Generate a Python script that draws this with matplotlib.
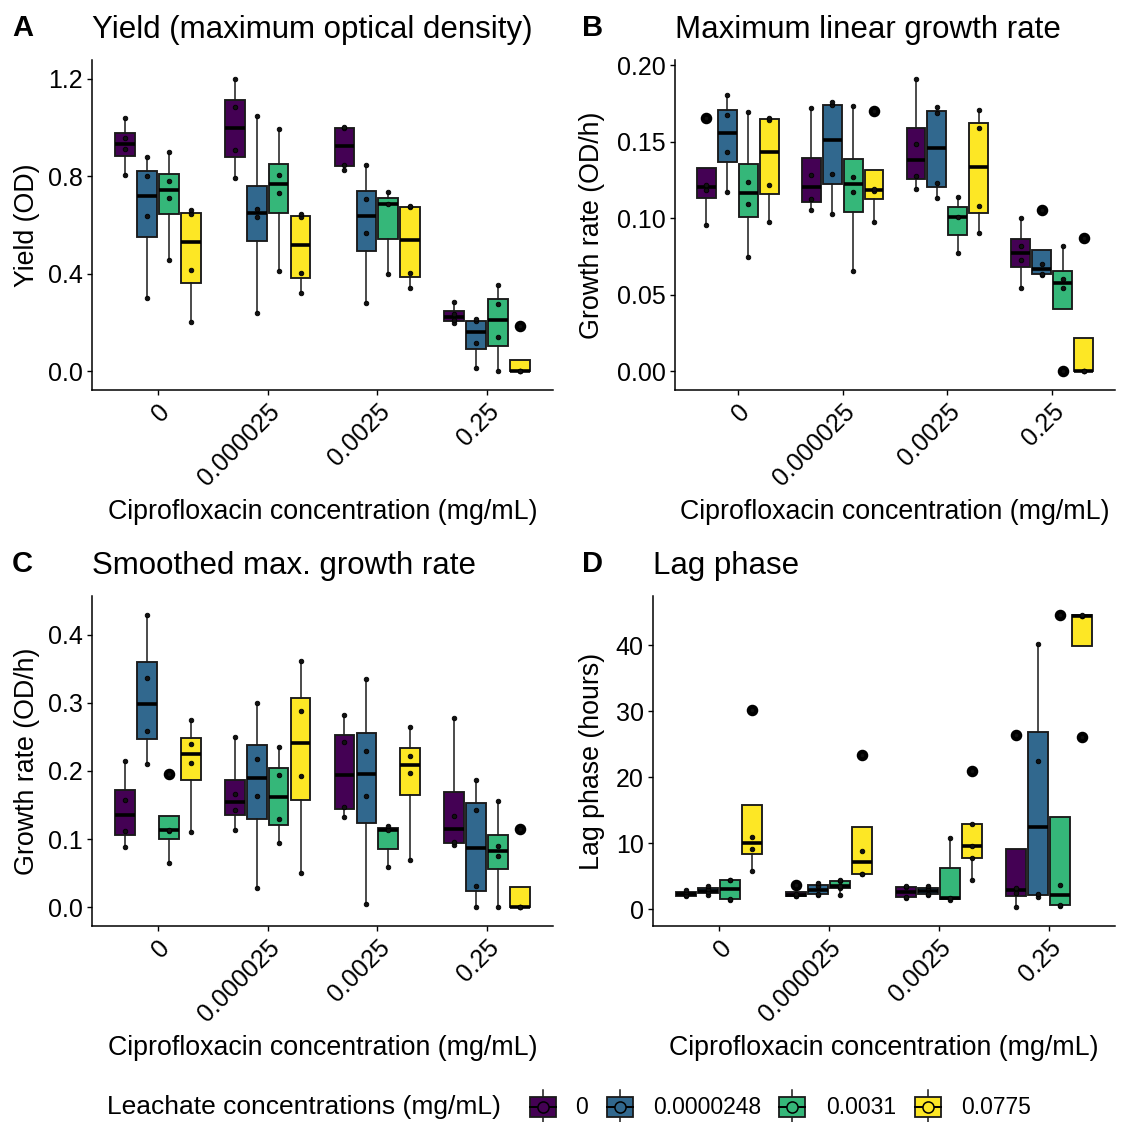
import numpy as np
import matplotlib.pyplot as plt
from matplotlib.patches import Rectangle

plt.rcParams['font.family'] = ['Liberation Sans', 'DejaVu Sans']

W, H = 1123, 1122

cipro_labels = ['0', '0.000025', '0.0025', '0.25']
leachate_labels = ['0', '0.0000248', '0.0031', '0.0775']
leachate_colors = ['#440154', '#31688E', '#35B779', '#FDE725']

# replicate values, one inner list per ciprofloxacin level, one list per leachate level
# yield (maximum OD)
yield_l0 = [[0.804, 0.911, 0.956, 1.041], [0.795, 0.908, 1.086, 1.200],
            [0.826, 0.847, 1.000, 1.002], [0.197, 0.208, 0.235, 0.284]]
yield_l1 = [[0.298, 0.635, 0.801, 0.878], [0.239, 0.631, 0.664, 1.048],
            [0.280, 0.566, 0.705, 0.846], [0.012, 0.115, 0.205, 0.215]]
yield_l2 = [[0.458, 0.710, 0.780, 0.901], [0.413, 0.730, 0.804, 0.993],
            [0.400, 0.688, 0.734], [0.000, 0.139, 0.277, 0.354]]
yield_l3 = [[0.202, 0.414, 0.645, 0.660], [0.322, 0.404, 0.632, 0.645],
            [0.341, 0.404, 0.674, 0.677], [0.000, 0.000, 0.000, 0.187]]

# maximum linear growth rate (OD/h)
linrate_l0 = [[0.0956, 0.1187, 0.1219, 0.1658], [0.1054, 0.1124, 0.1285, 0.1721],
              [0.1190, 0.1279, 0.1486, 0.1911], [0.0545, 0.0725, 0.0819, 0.1002]]
linrate_l1 = [[0.1174, 0.1436, 0.1673, 0.1806], [0.1026, 0.1287, 0.1738, 0.1758],
              [0.1129, 0.1231, 0.1689, 0.1728], [0.0630, 0.0634, 0.0703, 0.1054]]
linrate_l2 = [[0.0743, 0.1096, 0.1237, 0.1697], [0.0654, 0.1170, 0.1272, 0.1734],
              [0.0771, 0.1009, 0.1139], [0.0000, 0.0543, 0.0603, 0.0817]]
linrate_l3 = [[0.0978, 0.1217, 0.1643, 0.1658], [0.0976, 0.1176, 0.1191, 0.1699],
              [0.0906, 0.1078, 0.1593, 0.1706], [0.0000, 0.0000, 0.0000, 0.0870]]

# smoothed max. growth rate (OD/h)
smrate_l0 = [[0.0887, 0.1123, 0.1569, 0.2152], [0.1127, 0.1431, 0.1657, 0.2495],
             [0.1319, 0.1475, 0.2422, 0.2824], [0.0912, 0.0951, 0.1331, 0.2775]]
smrate_l1 = [[0.2108, 0.2593, 0.3368, 0.4294], [0.0275, 0.1627, 0.2176, 0.3005],
             [0.0039, 0.1632, 0.2294, 0.3358], [0.0000, 0.0314, 0.1426, 0.1868]]
smrate_l2 = [[0.0647, 0.1117, 0.1137, 0.1961], [0.0946, 0.1299, 0.1941, 0.2358],
             [0.0583, 0.1135, 0.1185], [0.0000, 0.0752, 0.0891, 0.1564]]
smrate_l3 = [[0.1103, 0.2113, 0.2392, 0.2745], [0.0505, 0.1931, 0.2882, 0.3623],
             [0.0691, 0.1966, 0.2225, 0.2652], [0.0000, 0.0000, 0.0000, 0.1152]]

# lag phase (hours)
lag_l0 = [[1.95, 2.10, 2.60, 2.95], [2.00, 2.04, 2.33, 3.70],
          [1.77, 1.85, 3.40, 3.54], [0.35, 2.50, 3.30, 26.4]]
lag_l1 = [[2.22, 2.60, 3.05, 3.53], [2.20, 2.30, 3.60, 3.95],
          [2.12, 2.35, 3.20, 3.54], [1.80, 2.35, 22.5, 40.15]]
lag_l2 = [[1.45, 1.60, 4.45, 4.50], [2.12, 3.30, 3.55, 4.35, 4.45],
          [1.41, 1.71, 10.74], [0.55, 0.60, 3.70, 44.6]]
lag_l3 = [[5.85, 9.13, 11.0, 30.2], [5.30, 5.40, 8.83, 23.4],
          [4.44, 7.80, 9.53, 12.90, 20.9], [26.1, 44.5, 44.5, 44.6]]

TICK_FS = 18
LAB_FS = 19.3
TITLE_FS = 22.5
EDGE = '#1a1a1a'


def px_axes(fig, left, top, right, bottom):
    return fig.add_axes([left / W, 1 - bottom / H, (right - left) / W, (bottom - top) / H])


def draw_panel(ax, series, yticks, yticklabels, ylabel, ylab_x):
    allv = np.concatenate([np.concatenate([np.asarray(v, float) for v in s]) for s in series])
    lo, hi = allv.min(), allv.max()
    pad = 0.065 * (hi - lo)
    for j, (s, col) in enumerate(zip(series, leachate_colors)):
        pos = np.arange(1, 5) + (j - 1.5) * 0.2
        ax.boxplot(s, positions=pos, widths=0.18, patch_artist=True, whis=1.5,
                   showcaps=False, manage_ticks=False,
                   boxprops=dict(facecolor=col, edgecolor=EDGE, linewidth=1.35),
                   medianprops=dict(color='black', linewidth=2.6),
                   whiskerprops=dict(color=EDGE, linewidth=1.1),
                   flierprops=dict(marker='o', markerfacecolor='black',
                                   markeredgecolor='black', markersize=7.3))
        # every replicate as a small dot at the box centre
        for p, vals in zip(pos, s):
            ax.plot(np.full(len(vals), p), vals, 'o', ms=3.3, mfc='#111111', mec='black',
                    mew=0.6, zorder=4)
    ax.set_xlim(0.4, 4.6)
    ax.set_ylim(lo - pad, hi + pad)
    ax.set_xticks(np.arange(1, 5))
    ax.set_xticklabels(cipro_labels, rotation=45, ha='right', va='top',
                       rotation_mode='anchor', fontsize=TICK_FS)
    ax.set_yticks(yticks)
    ax.set_yticklabels(yticklabels, fontsize=TICK_FS)
    for side in ['top', 'right']:
        ax.spines[side].set_visible(False)
    for side in ['left', 'bottom']:
        ax.spines[side].set_linewidth(1.1)
    ax.tick_params(length=3.7, width=1.0, pad=3, colors='black')
    ax.set_ylabel(ylabel, fontsize=LAB_FS, va='center')
    ax.yaxis.set_label_coords(ylab_x, 0.5)
    ax.set_xlabel('Ciprofloxacin concentration (mg/mL)', fontsize=LAB_FS, va='center')
    ax.xaxis.set_label_coords(0.5, -0.37)


fig = plt.figure(figsize=(W / 100, H / 100), dpi=100)

axA = px_axes(fig, 92, 60, 553, 390)
axB = px_axes(fig, 675, 60, 1115, 390)
axC = px_axes(fig, 92, 596, 553, 926)
axD = px_axes(fig, 653, 596, 1115, 926)

draw_panel(axA, [yield_l0, yield_l1, yield_l2, yield_l3],
           [0, 0.4, 0.8, 1.2], ['0.0', '0.4', '0.8', '1.2'], 'Yield (OD)', -0.141)
draw_panel(axB, [linrate_l0, linrate_l1, linrate_l2, linrate_l3],
           [0, 0.05, 0.10, 0.15, 0.20], ['0.00', '0.05', '0.10', '0.15', '0.20'],
           'Growth rate (OD/h)', -0.189)
draw_panel(axC, [smrate_l0, smrate_l1, smrate_l2, smrate_l3],
           [0, 0.1, 0.2, 0.3, 0.4], ['0.0', '0.1', '0.2', '0.3', '0.4'],
           'Growth rate (OD/h)', -0.141)
draw_panel(axD, [lag_l0, lag_l1, lag_l2, lag_l3],
           [0, 10, 20, 30, 40], ['0', '10', '20', '30', '40'],
           'Lag phase (hours)', -0.132)

# panel letters and titles
panels = [('A', 12, 30, 92, 'Yield (maximum optical density)'),
          ('B', 582, 30, 675, 'Maximum linear growth rate'),
          ('C', 12, 566, 92, 'Smoothed max. growth rate'),
          ('D', 582, 566, 653, 'Lag phase')]
for letter, lx, ly, tx, title in panels:
    fig.text(lx / W, 1 - (ly - 2) / H, letter, fontsize=21, fontweight='bold', va='center', ha='left')
    fig.text(tx / W, 1 - ly / H, title, fontsize=TITLE_FS, va='center', ha='left')

# legend along the bottom
leg = fig.add_axes([0, 0, 1, 1], zorder=-1)
leg.set_xlim(0, W)
leg.set_ylim(H, 0)
leg.axis('off')
ly = 1107
leg.text(107, ly, 'Leachate concentrations (mg/mL)', fontsize=19, va='center', ha='left')
key_x = [543, 620, 792, 928]
lab_x = [575, 653, 826, 961]
for kx, tx, col, lab in zip(key_x, lab_x, leachate_colors, leachate_labels):
    leg.plot([kx, kx], [ly - 17, ly + 17], color=EDGE, lw=1.1)
    leg.add_patch(Rectangle((kx - 13, ly - 10), 26, 20, facecolor=col,
                            edgecolor=EDGE, lw=1.3, zorder=3))
    leg.plot([kx - 13, kx + 13], [ly, ly], color='black', lw=1.4, zorder=4)
    leg.plot([kx], [ly], 'o', ms=8, mfc=col, mec='black', mew=1.1, zorder=5)
    leg.text(tx, ly, lab, fontsize=16.5, va='center', ha='left')

fig.savefig('out.png', dpi=100)
